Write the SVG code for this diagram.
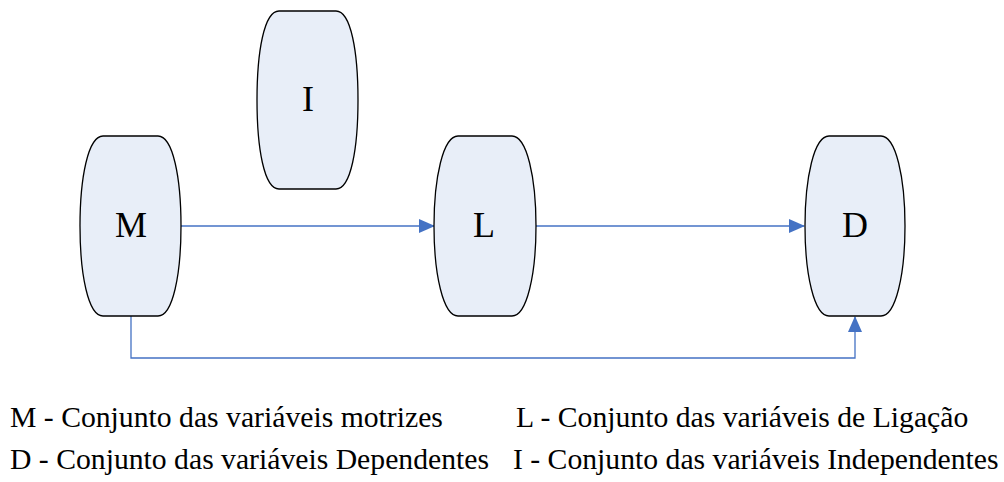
<svg xmlns="http://www.w3.org/2000/svg" width="1004" height="482" viewBox="0 0 1004 482">
<defs>
<style>
.node{fill:#E8EEF8;stroke:#000;stroke-width:1.3}
.lbl{font-family:"Liberation Serif","Times New Roman",serif;font-size:36px;fill:#000;text-anchor:middle}
.leg{font-family:"Liberation Serif","Times New Roman",serif;font-size:29.7px;fill:#000}
.con{fill:none;stroke:#4472C4;stroke-width:1.3}
</style>
<marker id="ah" markerWidth="16" markerHeight="14" refX="15" refY="7" orient="auto" markerUnits="userSpaceOnUse">
<path d="M0,0 L16,7 L0,14 Z" fill="#4472C4"/>
</marker>
</defs>
<rect width="1004" height="482" fill="#fff"/>
<g id="connectors">
<line class="con" x1="181" y1="226" x2="434" y2="226" marker-end="url(#ah)"/>
<line class="con" x1="536" y1="226" x2="804" y2="226" marker-end="url(#ah)"/>
<polyline class="con" points="131,316 131,358 855,358 855,317" marker-end="url(#ah)"/>
</g>
<g id="node-M">
<path class="node" d="M103,136 H158 C173,136 181,178 181,226 C181,274 173,316 158,316 H103 C88,316 80,274 80,226 C80,178 88,136 103,136 Z"/>
<text class="lbl" x="131" y="237">M</text>
</g>
<g id="node-I">
<path class="node" d="M279,11 H336 C351,11 358,52 358,100 C358,148 351,189 336,189 H279 C264,189 257,148 257,100 C257,52 264,11 279,11 Z"/>
<text class="lbl" x="308" y="111">I</text>
</g>
<g id="node-L">
<path class="node" d="M458,136 H512 C527,136 536,178 536,226 C536,274 527,316 512,316 H458 C443,316 434,274 434,226 C434,178 443,136 458,136 Z"/>
<text class="lbl" x="484" y="237">L</text>
</g>
<g id="node-D">
<path class="node" d="M829,136 H881 C896,136 905,178 905,226 C905,274 896,316 881,316 H829 C814,316 805,274 805,226 C805,178 814,136 829,136 Z"/>
<text class="lbl" x="855" y="237">D</text>
</g>
<g id="legend">
<text class="leg" x="10" y="427">M - Conjunto das variáveis motrizes</text>
<text class="leg" x="516" y="427">L - Conjunto das variáveis de Ligação</text>
<text class="leg" x="10" y="469">D - Conjunto das variáveis Dependentes</text>
<text class="leg" x="513" y="469">I - Conjunto das variáveis Independentes</text>
</g>
</svg>
